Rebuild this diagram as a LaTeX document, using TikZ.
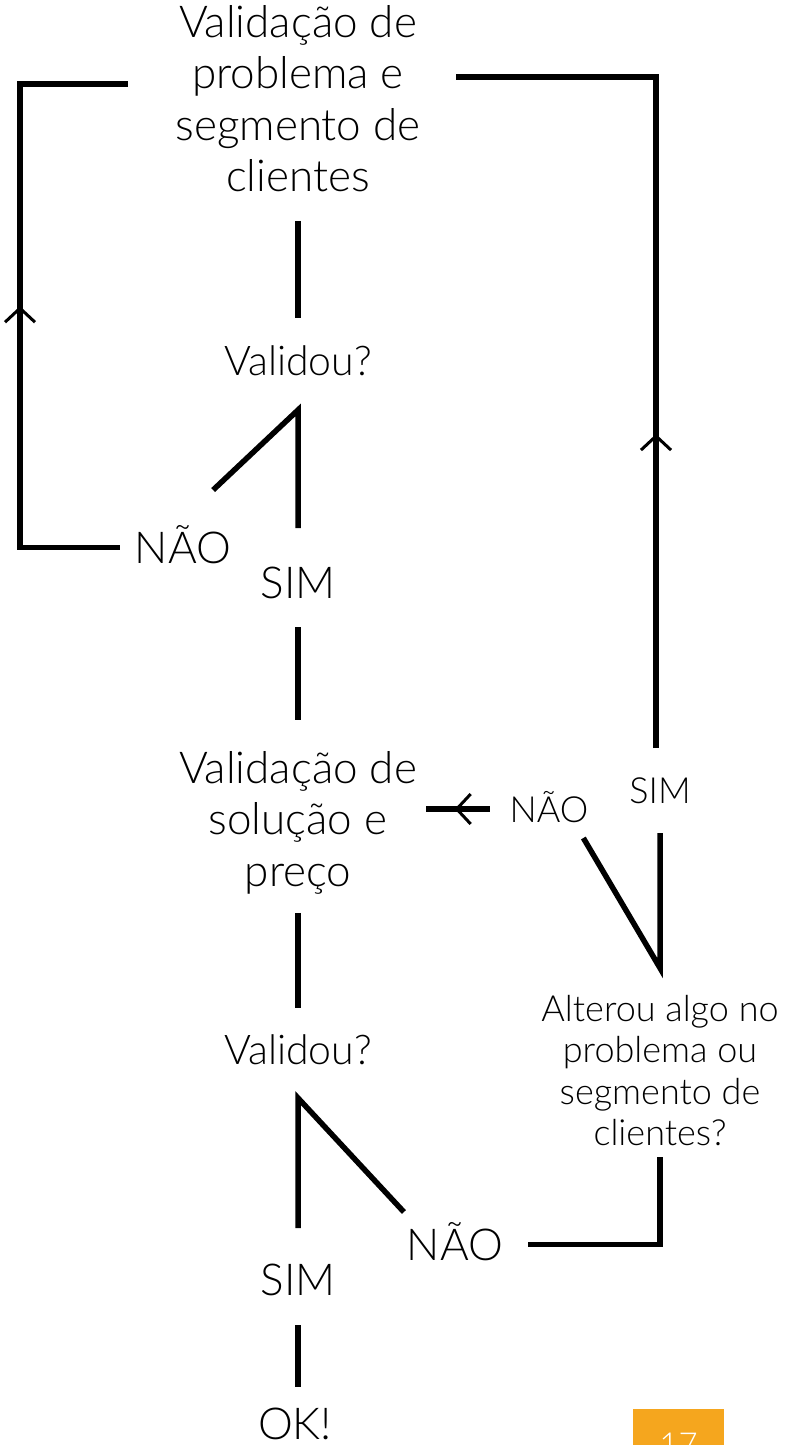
\documentclass[tikz,border=0pt]{standalone}
\usepackage{fontspec}
\setmainfont{Lato Light}
\usetikzlibrary{arrows.meta,decorations.markings}
\definecolor{pageorange}{HTML}{F5A61E}

\begin{document}
\begin{tikzpicture}[x=1pt, y=-1pt,
  every node/.style={inner sep=0pt, outer sep=0pt, text=black},
  big/.style={font=\fontsize{44}{51.5}\selectfont},
  mid/.style={font=\fontsize{41}{46}\selectfont},
  small/.style={font=\fontsize{36}{41.5}\selectfont},
  word/.style={anchor=base, text height=#1, text depth=0pt}, word/.default=31.5pt,
  block/.style={anchor=north, align=center},
  link/.style={line width=5.5pt},
  chevron/.style={postaction={decorate}, decoration={markings,
      mark=at position #1 with {\arrow{Straight Barb[length=14pt, width=30pt, line width=3pt]}}}}]
  \useasboundingbox (0,0) rectangle (788,1445);
  \clip (0,0) rectangle (788,1445);

  \coordinate (loopL) at (20,84);
  \coordinate (loopR) at (656,77);

  \node[block, big] (prob) at (298,5) {Validação de\\problema e\\segmento de\\clientes};
  \node[word=29.5pt, mid] (val1) at (298,375) {Validou?};
  \node[word, big] (nao1) at (183,563) {NÃO};
  \node[word, big] (sim1) at (298,598) {SIM};
  \node[block, big] (sol) at (298,751) {Validação de\\solução e\\preço};
  \node[word=26pt, small] (nao2) at (549,822) {NÃO};
  \node[word=26pt, small] (sim2) at (660,803) {SIM};
  \node[block, small] (alt) at (660,995) {Alterou algo no\\problema ou\\segmento de\\clientes?};
  \node[word=29.5pt, mid] (val2) at (298,1064) {Validou?};
  \node[word, big] (nao3) at (455,1260) {NÃO};
  \node[word, big] (sim3) at (298,1295) {SIM};
  \node[word, big] (ok) at (295,1439) {OK!};
  \node[fill=pageorange, text=white, font=\fontsize{33}{40}\selectfont, text height=24pt, text depth=0pt,
    minimum width=91pt, minimum height=70pt, anchor=north] (pg) at (678.5,1409) {17};

  \draw[link, shorten <=29pt, shorten >=27.5pt] (prob.south) -- (val1.north);
  \draw[link] ([shift={(-18pt,41.5pt)}]nao1.north east) -- ([yshift=-35pt]val1.south) -- ([yshift=38.5pt]sim1.north);
  \draw[link, chevron=341pt] ([xshift=-15pt]nao1.west) -| (loopL) -- ([xshift=-47.5pt]prob.west |- loopL);
  \draw[link, shorten <=29pt, shorten >=31pt] (sim1.south) -- (sol.north);
  \draw[link, shorten <=19pt, shorten >=26.5pt] (sol.south) -- (val2.north);
  \draw[link] ([shift={(-3pt,16.5pt)}]nao3.north west) -- ([yshift=-34pt]val2.south) -- ([yshift=35.5pt]sim3.north);
  \draw[link, shorten <=30pt, shorten >=20.5pt] (sim3.south) -- (sim3.south |- ok.north);
  \draw[link] ([xshift=25pt]nao3.east) -| ([yshift=-11pt]alt.south);
  \draw[link] ([shift={(-5pt,-16pt)}]nao2.south east) -- ([yshift=27pt]alt.north) -- ([yshift=-30pt]sim2.south);
  \draw[link, chevron=35pt] ([xshift=-20pt]nao2.west) -- ([xshift=9pt]sol.east |- nao2.west);
  \draw[link, chevron=314pt] ([yshift=29pt]sim2.north -| loopR) -- (loopR) -- ([xshift=35.5pt]prob.east |- loopR);
\end{tikzpicture}
\end{document}
